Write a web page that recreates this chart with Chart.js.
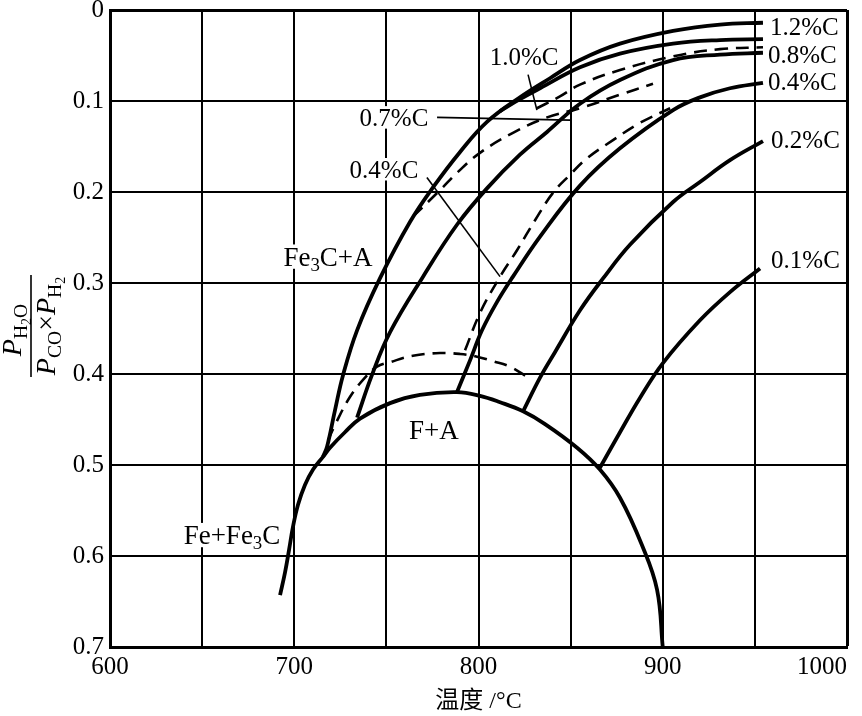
<!DOCTYPE html>
<html>
<head>
<meta charset="utf-8">
<script src="https://cdn.jsdelivr.net/npm/chart.js@4.4.0/dist/chart.umd.min.js"></script>
<style>
  html, body { margin: 0; padding: 0; background: #fff; }
  #wrap { width: 862px; height: 716px; position: relative; }
</style>
</head>
<body>
<div id="wrap"><canvas id="chart"></canvas></div>
<script>
// temperature (°C) and P_H2O/(P_CO*P_H2)
var domeT = [692.3, 695.0, 697.2, 699.3, 702.0, 705.8, 710.2, 715.6, 719.4, 727.5, 735.7, 752.0, 768.2, 788.3, 800.8, 811.7, 824.2, 836.1, 853.5, 865.9, 876.8, 888.7, 896.9, 900.0];
var domeR = [0.643, 0.618, 0.593, 0.568, 0.544, 0.522, 0.505, 0.491, 0.481, 0.464, 0.449, 0.432, 0.423, 0.420, 0.424, 0.431, 0.441, 0.455, 0.481, 0.505, 0.536, 0.588, 0.637, 0.700];

var c12T = [715.6, 717.8, 722.1, 726.5, 734.1, 746.5, 762.8, 775.3, 790.0, 804.6, 822.5, 838.8, 855.1, 876.8, 905.6, 931.1, 954.4];
var c12R = [0.491, 0.480, 0.440, 0.401, 0.352, 0.295, 0.233, 0.195, 0.156, 0.123, 0.096, 0.075, 0.055, 0.037, 0.023, 0.016, 0.014];

var c10T = [811.7, 822.5, 833.4, 855.1, 876.8, 905.6, 931.1, 954.4];
var c10R = [0.111, 0.098, 0.086, 0.063, 0.048, 0.037, 0.033, 0.032];

var c08T = [734.1, 742.2, 752.0, 769.9, 788.3, 804.6, 822.5, 837.2, 855.1, 876.8, 905.6, 931.1, 954.4];
var c08R = [0.448, 0.401, 0.354, 0.293, 0.236, 0.196, 0.159, 0.134, 0.103, 0.077, 0.055, 0.049, 0.047];

var c04T = [788.3, 795.4, 801.9, 810.0, 818.7, 833.4, 855.1, 876.8, 905.6, 920.2, 936.5, 954.4];
var c04R = [0.420, 0.385, 0.352, 0.321, 0.293, 0.249, 0.193, 0.152, 0.110, 0.096, 0.086, 0.080];

var c02T = [824.2, 833.4, 841.5, 855.1, 867.6, 882.2, 905.6, 920.2, 936.5, 954.4];
var c02R = [0.441, 0.404, 0.376, 0.330, 0.295, 0.258, 0.211, 0.189, 0.165, 0.144];

var c01T = [865.9, 876.8, 887.7, 900.1, 920.2, 936.5, 952.8];
var c01R = [0.503, 0.464, 0.426, 0.388, 0.341, 0.310, 0.284];

// dashed family
var d10T = [831.7, 844.2, 855.1, 876.8, 905.6, 931.1, 954.4];
var d10R = [0.108, 0.095, 0.082, 0.066, 0.051, 0.043, 0.041];

var d07T = [764.4, 779.1, 788.3, 800.8, 818.7, 837.2, 855.1, 876.8, 894.7];
var d07R = [0.227, 0.198, 0.179, 0.157, 0.135, 0.118, 0.108, 0.093, 0.081];

var d04T = [792.7, 800.8, 811.7, 820.9, 830.7, 840.4, 849.7, 858.9, 873.0, 887.7, 904.0];
var d04R = [0.374, 0.333, 0.293, 0.264, 0.231, 0.201, 0.181, 0.163, 0.143, 0.124, 0.108];

var dDomeT = [718.3, 722.1, 730.3, 738.4, 744.9, 752.0, 764.4, 779.1, 790.0, 799.2, 807.9, 817.1, 826.3];
var dDomeR = [0.473, 0.456, 0.425, 0.404, 0.392, 0.387, 0.380, 0.377, 0.378, 0.381, 0.386, 0.392, 0.403];

var xTickLabels = ['600', '700', '800', '900', '1000'];

// curve labels ('_' = subscript)
var noteText = ['1.2%C', '0.8%C', '0.4%C', '0.2%C', '0.1%C', '1.0%C', '0.7%C', '0.4%C', 'Fe_3C+A', 'F+A', 'Fe+Fe_3C'];
var noteT = [958.2, 957.1, 957.1, 958.8, 958.8, 824.7, 754.1, 748.7, 718.3, 775.8, 666.2];
var noteR = [0.018, 0.049, 0.079, 0.143, 0.274, 0.051, 0.118, 0.175, 0.271, 0.462, 0.577];

// leader lines of the labels
var leadT0 = [826.9, 777.5, 772.0];
var leadR0 = [0.071, 0.118, 0.184];
var leadT1 = [831.7, 849.7, 811.7];
var leadR1 = [0.110, 0.121, 0.293];

var SERIF = "'Liberation Serif', 'DejaVu Serif', serif";

function fontOf(p, size) {
  var s = p.sub === 2 ? size * 0.5 : (p.sub ? size * 0.7 : size);
  return (p.it ? 'italic ' : '') + s.toFixed(1) + 'px ' + SERIF;
}
function shiftOf(p, size) {
  return p.sub === 2 ? size * 0.36 : (p.sub ? size * 0.2 : 0);
}
function richWidth(ctx, parts, size) {
  var w = 0;
  parts.forEach(function(p) {
    ctx.font = fontOf(p, size);
    w += ctx.measureText(p.t).width;
  });
  return w;
}
function drawRich(ctx, parts, x, base, align, size) {
  var w = richWidth(ctx, parts, size);
  var px = align === 'center' ? x - w / 2 : x;
  ctx.textAlign = 'left';
  ctx.textBaseline = 'alphabetic';
  ctx.fillStyle = '#000';
  parts.forEach(function(p) {
    ctx.font = fontOf(p, size);
    ctx.fillText(p.t, px, base + shiftOf(p, size));
    px += ctx.measureText(p.t).width;
  });
}
function parse(str) {
  var out = [];
  for (var i = 0; i < str.length; i++) {
    if (str[i] === '_') {
      out.push({t: str[++i], sub: 1});
    } else if (out.length && !out[out.length - 1].sub) {
      out[out.length - 1].t += str[i];
    } else {
      out.push({t: str[i]});
    }
  }
  return out;
}

function noteBox(chart, i) {
  var ctx = chart.ctx;
  var size = i >= 8 ? 27 : 25;
  var parts = parse(noteText[i]);
  var w = richWidth(ctx, parts, size);
  var x = chart.scales.x.getPixelForValue(noteT[i]);
  var y = chart.scales.y.getPixelForValue(noteR[i]);
  var left = i < 5 ? x : x - w / 2;
  return {parts: parts, size: size, w: w, left: left, y: y};
}

var notesPlugin = {
  id: 'notes',
  beforeDatasetsDraw: function(chart) {
    // labels sit on white, so they break the grid
    var ctx = chart.ctx;
    ctx.save();
    ctx.fillStyle = '#fff';
    for (var i = 0; i < noteText.length; i++) {
      var b = noteBox(chart, i);
      ctx.fillRect(b.left - 3, b.y - b.size * 0.45, b.w + 6, b.size * 0.9);
    }
    ctx.restore();
  },
  afterDatasetsDraw: function(chart) {
    var ctx = chart.ctx;
    var sx = chart.scales.x, sy = chart.scales.y;
    ctx.save();
    ctx.strokeStyle = '#000';
    ctx.lineWidth = 1.6;
    for (var k = 0; k < leadT0.length; k++) {
      ctx.beginPath();
      ctx.moveTo(sx.getPixelForValue(leadT0[k]), sy.getPixelForValue(leadR0[k]));
      ctx.lineTo(sx.getPixelForValue(leadT1[k]), sy.getPixelForValue(leadR1[k]));
      ctx.stroke();
    }
    for (var i = 0; i < noteText.length; i++) {
      var b = noteBox(chart, i);
      drawRich(ctx, b.parts, b.left, b.y + b.size * 0.33, 'left', b.size);
    }
    ctx.restore();
  },
  afterDraw: function(chart) {
    // y title: P_H2O / (P_CO x P_H2)
    var ctx = chart.ctx;
    var size = 28;
    var num = [{t: 'P', it: 1}, {t: 'H', sub: 1}, {t: '2', sub: 2}, {t: 'O', sub: 1}];
    var den = [{t: 'P', it: 1}, {t: 'CO', sub: 1}, {t: '\u00d7'}, {t: 'P', it: 1}, {t: 'H', sub: 1}, {t: '2', sub: 2}];
    ctx.save();
    ctx.translate(31, 326);
    ctx.rotate(-Math.PI / 2);
    ctx.strokeStyle = '#000';
    ctx.lineWidth = 1.6;
    ctx.beginPath();
    ctx.moveTo(-51, 0);
    ctx.lineTo(51, 0);
    ctx.stroke();
    drawRich(ctx, num, -4, -10, 'center', size);
    drawRich(ctx, den, 0, 24, 'center', size);
    ctx.restore();
  }
};

function curve(T, R, dashed) {
  return {
    data: T.map(function(t, i) { return {x: t, y: R[i]}; }),
    showLine: true,
    borderColor: '#000',
    borderWidth: dashed ? 2.6 : 3.8,
    borderDash: dashed ? [13, 8] : [],
    pointRadius: 0,
    tension: 0.4,
    fill: false
  };
}

var datasets = [
  curve(domeT, domeR, false),
  curve(c12T, c12R, false),
  curve(c10T, c10R, false),
  curve(c08T, c08R, false),
  curve(c04T, c04R, false),
  curve(c02T, c02R, false),
  curve(c01T, c01R, false),
  curve(d10T, d10R, true),
  curve(d07T, d07R, true),
  curve(d04T, d04R, true),
  curve(dDomeT, dDomeR, true)
];

var ctx = document.getElementById('chart');
var chart = new Chart(ctx, {
  type: 'scatter',
  data: {datasets: datasets},
  plugins: [notesPlugin],
  options: {
    responsive: true,
    maintainAspectRatio: false,
    animation: false,
    layout: {padding: {top: 10, right: 15, left: 0, bottom: 0}},
    plugins: {legend: {display: false}, tooltip: {enabled: false}},
    scales: {
      x: {
        type: 'linear',
        min: 600,
        max: 1000,
        ticks: {
          stepSize: 50,
          autoSkip: false,
          maxRotation: 0,
          padding: 5,
          color: '#000',
          font: {family: SERIF, size: 25},
          callback: function(v) {
            if (v % 100 !== 0) return '';
            var s = xTickLabels[(v - 600) / 100];
            return v === 1000 ? s + '        ' : s;// keep last label inside the canvas
          }
        },
        grid: {
          color: '#000',
          lineWidth: function(c) { return c.tick && c.tick.value === 1000 ? 3 : 2; },
          drawTicks: false
        },
        border: {color: '#000', width: 3},
        title: {
          display: true,
          text: '温度 /°C',
          color: '#000',
          padding: 0,
          font: {family: "'Liberation Serif', 'Noto Sans CJK SC', serif", size: 24}
        },
        afterFit: function(s) {
          s.height = 69;
          s.paddingLeft = 0;
          s.paddingRight = 0;
        }
      },
      y: {
        type: 'linear',
        reverse: true,
        min: 0,
        max: 0.7,
        ticks: {
          stepSize: 0.1,
          padding: 6,
          color: '#000',
          font: {family: SERIF, size: 25},
          callback: function(v) { return v === 0 ? '0' : v.toFixed(1); }
        },
        grid: {
          color: '#000',
          lineWidth: function(c) { return c.tick && c.tick.value === 0 ? 3 : 2; },
          drawTicks: false
        },
        border: {color: '#000', width: 3},
        afterFit: function(s) {
          s.width = 110;
          s.paddingTop = 0;
          s.paddingBottom = 0;
        }
      }
    }
  }
});
</script>
</body>
</html>
